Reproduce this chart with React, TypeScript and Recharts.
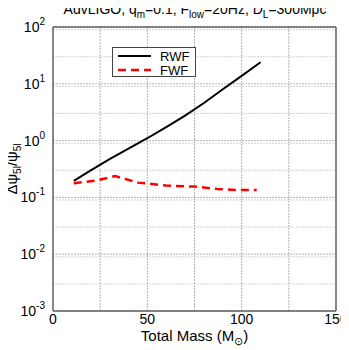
import { LineChart, Line, XAxis, YAxis, CartesianGrid, ReferenceLine } from "recharts";

// ─── Data ─────────────────────────────────────────────────────────────────────
const rwfMass = [11, 20, 30, 40, 50, 60, 70, 80, 90, 100, 110];
const rwfValues = [0.195, 0.3, 0.47, 0.72, 1.1, 1.72, 2.75, 4.6, 8.0, 13.8, 24];

const fwfMass = [11, 22, 33, 45, 60, 75, 87, 97, 108];
const fwfValues = [0.178, 0.196, 0.237, 0.182, 0.162, 0.155, 0.141, 0.135, 0.135];

const xTicks = [0, 50, 100, 150];
const xGrid = [25, 50, 75, 100, 125];
const yTicks = [0.001, 0.01, 0.1, 1, 10, 100];
const yMinor = [0.001, 0.01, 0.1, 1, 10].flatMap((d) =>
  [2, 3, 4, 5, 6, 7, 8, 9].map((m) => +(d * m).toPrecision(3))
);

const rwfData = rwfMass.map((m, i) => ({ mass: m, value: rwfValues[i] }));
const fwfData = fwfMass.map((m, i) => ({ mass: m, value: fwfValues[i] }));

const FONT = "'Liberation Sans', Arial, sans-serif";

function YTick({ x, y, payload }: any) {
  const exp = Math.round(Math.log10(payload.value));
  return (
    <text x={x} y={y + 5} textAnchor="end" fontFamily={FONT} fontSize={14} fill="#000">
      10
      <tspan dy={-7} fontSize={10}>{exp}</tspan>
    </text>
  );
}

function XTick({ x, y, payload }: any) {
  return (
    <text x={x} y={y + 5} textAnchor="middle" fontFamily={FONT} fontSize={14} fill="#000">
      {payload.value}
    </text>
  );
}

function YLabel({ viewBox }: any) {
  const cy = viewBox.y + viewBox.height / 2;
  return (
    <text
      x={0}
      y={0}
      transform={`translate(17, ${cy}) rotate(-90)`}
      textAnchor="middle"
      fontFamily={FONT}
      fontSize={15}
      fill="#000"
    >
      Δψ<tspan dy={4} fontSize={10}>5l</tspan>
      <tspan dy={-4}>/ψ</tspan>
      <tspan dy={4} fontSize={10}>5l</tspan>
    </text>
  );
}

function XLabel({ viewBox }: any) {
  const cx = viewBox.x + viewBox.width / 2;
  return (
    <text x={cx} y={341} textAnchor="middle" fontFamily={FONT} fontSize={15} fill="#000">
      Total Mass (M<tspan dy={4} fontSize={11}>⊙</tspan>
      <tspan dy={-4}>)</tspan>
    </text>
  );
}

function LegendBox() {
  return (
    <svg width={85} height={31} style={{ position: "absolute", left: 112, top: 47 }}>
      <rect x={0.5} y={0.5} width={83} height={29} fill="#fff" stroke="#444" strokeWidth={1} />
      <line x1={6} y1={9} x2={39} y2={9} stroke="#000" strokeWidth={2} />
      <line x1={6} y1={23} x2={39} y2={23} stroke="#ff0000" strokeWidth={2.5} strokeDasharray="8 5" />
      <text x={48} y={14} fontFamily={FONT} fontSize={13}>RWF</text>
      <text x={48} y={27.5} fontFamily={FONT} fontSize={13}>FWF</text>
    </svg>
  );
}

export default function App() {
  return (
    <div style={{ position: "relative", width: 349, height: 350, transform: "translate(-8px, -8px)" }}>
      <LineChart width={349} height={350} margin={{ top: 27, right: 13, bottom: 0, left: 0 }}>
        {/* ── Minor grid ── */}
        <CartesianGrid
          vertical={false}
          horizontalValues={yMinor}
          stroke="#c8c8c8"
          strokeWidth={0.8}
          strokeDasharray="2 1"
        />
        {/* ── Major grid ── */}
        <CartesianGrid
          horizontalValues={yTicks}
          verticalValues={xGrid}
          stroke="#a0a0a0"
          strokeWidth={0.8}
          strokeDasharray="2 1"
        />
        <XAxis
          dataKey="mass"
          type="number"
          domain={[0, 150]}
          ticks={xTicks}
          tick={<XTick />}
          tickLine={false}
          axisLine={false}
          height={39}
          label={<XLabel />}
        />
        <YAxis
          dataKey="value"
          scale="log"
          domain={[0.001, 100]}
          ticks={yTicks}
          tick={<YTick />}
          tickLine={false}
          axisLine={false}
          width={53}
          label={<YLabel />}
        />

        {/* ── Frame ── */}
        <ReferenceLine x={0} stroke="#606060" strokeWidth={1.5} ifOverflow="visible" />
        <ReferenceLine x={150} stroke="#606060" strokeWidth={1.5} ifOverflow="visible" />
        <ReferenceLine y={0.001} stroke="#606060" strokeWidth={1.5} ifOverflow="visible" />
        <ReferenceLine y={100} stroke="#606060" strokeWidth={1.5} ifOverflow="visible" />

        {/* ── Series ── */}
        <Line
          data={rwfData}
          dataKey="value"
          name="RWF"
          stroke="#000"
          strokeWidth={2}
          dot={false}
          type="linear"
          isAnimationActive={false}
        />
        <Line
          data={fwfData}
          dataKey="value"
          name="FWF"
          stroke="#ff0000"
          strokeWidth={2.5}
          strokeDasharray="8 5"
          dot={false}
          type="linear"
          isAnimationActive={false}
        />
      </LineChart>
      <LegendBox />
      <svg width={349} height={20} style={{ position: "absolute", left: 0, top: 0 }}>
        <text x={195} y={14} textAnchor="middle" fontFamily={FONT} fontSize={14} fill="#000">
          AdvLIGO; q<tspan dy={4} fontSize={10}>m</tspan>
          <tspan dy={-4}>=0.1; F</tspan>
          <tspan dy={4} fontSize={10}>low</tspan>
          <tspan dy={-4}>=20Hz; D</tspan>
          <tspan dy={4} fontSize={10}>L</tspan>
          <tspan dy={-4}>=300Mpc</tspan>
        </text>
      </svg>
    </div>
  );
}
